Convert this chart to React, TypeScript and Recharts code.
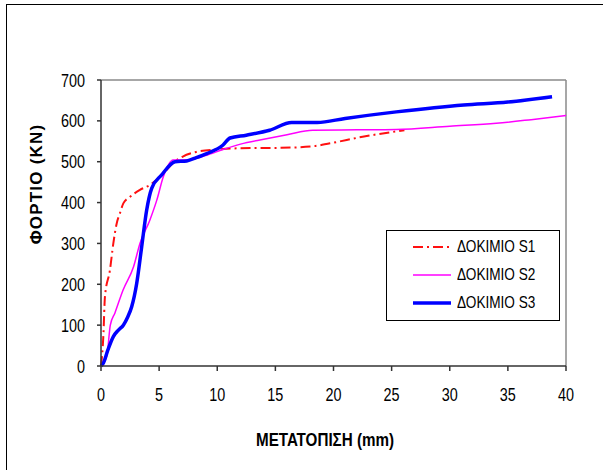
import React from 'react';
import { LineChart, Line, XAxis, YAxis, Legend, ReferenceLine, Label } from 'recharts';

// load–displacement readings, [displacement mm, load kN]
const S1: [number, number][] = [
  [0, 0], [0.2, 72], [0.34, 170], [0.77, 235], [1.06, 300], [1.35, 349], [1.63, 374],
  [1.92, 398], [2.5, 414], [3.35, 431], [4.2, 443], [5.36, 471], [6.2, 497], [7, 512],
  [8.2, 524], [10, 530], [12, 533], [15.4, 534], [18, 537], [19.7, 545], [22.5, 561], [26.1, 577],
];
const S2: [number, number][] = [
  [0, 0], [0.5, 25], [0.8, 100], [1.2, 130], [1.9, 186], [2.8, 243], [3.35, 300], [4.2, 357],
  [4.8, 406], [5.36, 463], [6.2, 504], [7.5, 505], [9, 515], [10.5, 530], [12, 543], [14, 555],
  [16, 566], [18.2, 577], [22, 578], [25.4, 579], [30, 587], [34, 594], [37, 603], [40, 613],
];
const S3: [number, number][] = [
  [0, 0], [0.2, 7], [0.6, 40], [1.06, 72], [1.5, 88], [1.92, 100], [2.3, 120], [2.64, 145],
  [3.07, 202], [3.5, 292], [3.93, 382], [4.36, 435], [5.2, 467], [6.37, 500], [7.37, 502],
  [8.2, 510], [9.1, 520], [10.5, 541], [11.1, 558], [12.5, 565], [14.5, 577], [16.4, 596],
  [18.6, 596], [21, 606], [25.4, 622], [31.2, 639], [35, 646], [38.8, 659],
];

const xTicks = [0, 5, 10, 15, 20, 25, 30, 35, 40];
const yTicks = [0, 100, 200, 300, 400, 500, 600, 700];

const SANS = '"Liberation Sans", Arial, sans-serif';
const SQUEEZE = 0.8; // no narrow face installed, so condense by hand

const toRows = (pts: [number, number][]) => pts.map(([x, y]) => ({ x, y }));

const series = [
  { name: 'ΔΟΚΙΜΙΟ S1', data: toRows(S1), color: '#ff1010', width: 2, dash: '10 4 2 4' },
  { name: 'ΔΟΚΙΜΙΟ S2', data: toRows(S2), color: '#ff00ff', width: 1.5, dash: undefined },
  { name: 'ΔΟΚΙΜΙΟ S3', data: toRows(S3), color: '#0000ff', width: 3.5, dash: undefined },
];

const Narrow = ({ x, y, anchor, size, bold, children }: any) => (
  <g transform={`translate(${x},${y}) scale(${SQUEEZE},1)`}>
    <text x={0} y={0} textAnchor={anchor} fontFamily={SANS} fontSize={size} fontWeight={bold ? 'bold' : 'normal'} fill="#000">
      {children}
    </text>
  </g>
);

const XTick = ({ x, y, payload }: any) => (
  <Narrow x={x} y={y + 13} anchor="middle" size={18}>{payload.value}</Narrow>
);
const YTick = ({ x, y, payload }: any) => (
  <Narrow x={x} y={y + 6.5} anchor="end" size={18}>{payload.value}</Narrow>
);

const LegendBox = () => (
  <div style={{ width: 172, height: 87, border: '1px solid #000', background: '#fff', paddingTop: 2 }}>
    {series.map(s => (
      <div key={s.name} style={{ height: 28, display: 'flex', alignItems: 'center' }}>
        <svg width={70} height={10} style={{ flex: 'none' }}>
          <line x1={26} x2={64} y1={5} y2={5} stroke={s.color} strokeWidth={s.width} strokeDasharray={s.dash} />
        </svg>
        <span style={{ fontFamily: SANS, fontSize: 17, color: '#000', lineHeight: '28px', display: 'inline-block', whiteSpace: 'nowrap', transform: `scaleX(${SQUEEZE})`, transformOrigin: 'left center' }}>
          {s.name}
        </span>
      </div>
    ))}
  </div>
);

export default function App() {
  return (
    <div style={{ position: 'absolute', left: 0, top: 0, width: 603, height: 470, background: '#fff', overflow: 'hidden' }}>
      <div style={{ position: 'absolute', left: 6, top: 4, width: 597, height: 466, borderLeft: '1.5px solid #000', borderTop: '1.5px solid #000' }} />
      <div style={{ position: 'absolute', left: 0, top: 0 }}>
        <LineChart width={603} height={470} margin={{ top: 80, right: 37, bottom: 74, left: 41 }}>
          <XAxis
            dataKey="x"
            type="number"
            domain={[0, 40]}
            ticks={xTicks}
            allowDuplicatedCategory={false}
            height={30}
            tickSize={5}
            tickMargin={17}
            stroke="#333"
            strokeWidth={1.5}
            tick={<XTick />}
          >
            <Label
              content={() => (
                <Narrow x={325} y={446} anchor="middle" size={19} bold>ΜΕΤΑΤΟΠΙΣΗ (mm)</Narrow>
              )}
            />
          </XAxis>
          <YAxis
            type="number"
            domain={[0, 700]}
            ticks={yTicks}
            width={60}
            tickSize={4}
            tickMargin={12}
            stroke="#333"
            strokeWidth={1.5}
            tick={<YTick />}
          >
            <Label
              content={() => (
                <text x={42} y={184} transform="rotate(-90 42 184)" textAnchor="middle" fontFamily={SANS} fontWeight="bold" fontSize={17} letterSpacing={1.2} fill="#000">
                  ΦΟΡΤΙΟ (KN)
                </text>
              )}
            />
          </YAxis>
          <ReferenceLine y={700} stroke="#8a8a8a" strokeWidth={1.5} />
          <ReferenceLine x={40} stroke="#8a8a8a" strokeWidth={1.5} />
          {series.map(s => (
            <Line
              key={s.name}
              data={s.data}
              dataKey="y"
              name={s.name}
              type="monotone"
              stroke={s.color}
              strokeWidth={s.width}
              strokeDasharray={s.dash}
              dot={false}
              activeDot={false}
              isAnimationActive={false}
            />
          ))}
          <Legend
            layout="vertical"
            align="center"
            verticalAlign="middle"
            content={() => <LegendBox />}
            wrapperStyle={{ position: 'absolute', left: 386, top: 230, width: 174, height: 89 }}
          />
        </LineChart>
      </div>
    </div>
  );
}
